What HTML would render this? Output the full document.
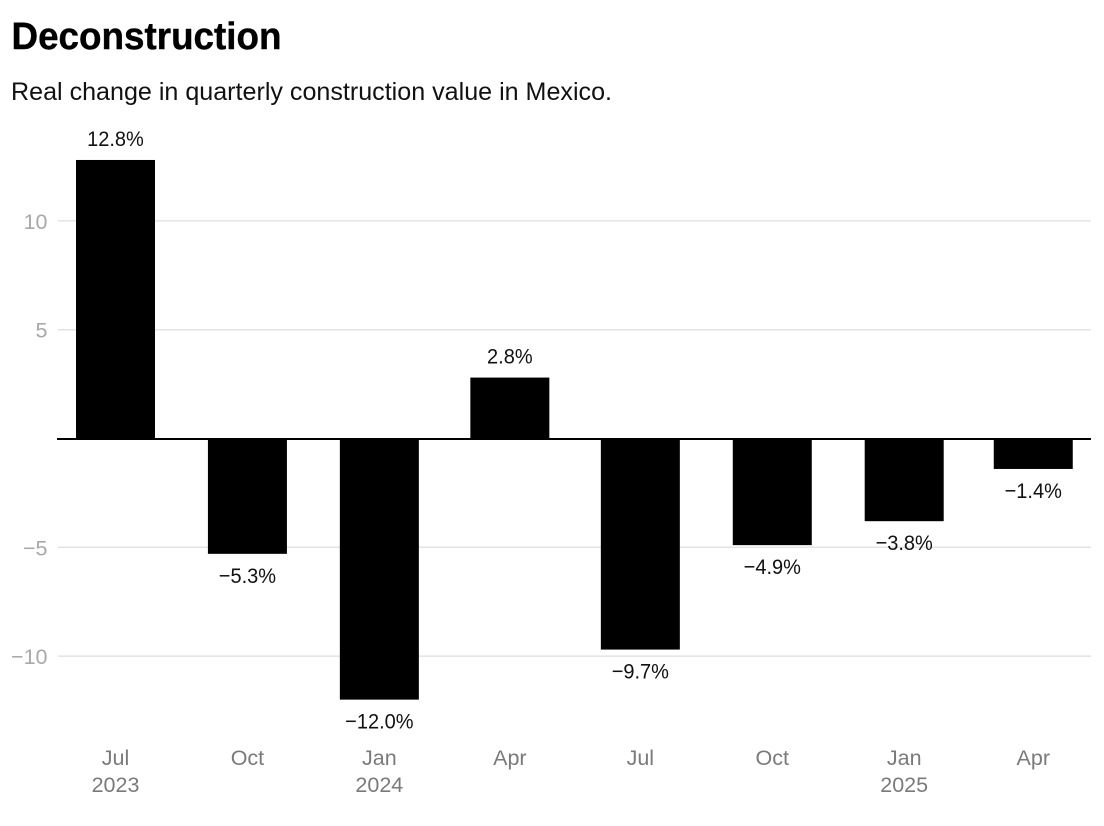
<!DOCTYPE html>
<html lang="en">
<head>
<meta charset="utf-8">
<title>Deconstruction</title>
<style>
html,body{margin:0;padding:0;background:#fff;width:1104px;height:826px;overflow:hidden}
svg{display:block;font-family:"Liberation Sans",Arial,sans-serif}
</style>
</head>
<body>
<svg id="chart" width="1104" height="826" viewBox="0 0 1104 826" xmlns="http://www.w3.org/2000/svg">
  <text x="11.5" y="49" font-size="38" font-weight="700" fill="#000" stroke="#000" stroke-width="0.4" textLength="270" lengthAdjust="spacingAndGlyphs">Deconstruction</text>
  <text x="11" y="100" font-size="25" fill="#111" textLength="601" lengthAdjust="spacingAndGlyphs">Real change in quarterly construction value in Mexico.</text>
  <g id="grid"></g>
  <g id="bars"></g>
  <g id="labels"></g>
  <g id="xaxis"></g>
</svg>
<script>
const dates = ["2023-07-01","2023-10-01","2024-01-01","2024-04-01","2024-07-01","2024-10-01","2025-01-01","2025-04-01"];
const months = ["Jul","Oct","Jan","Apr","Jul","Oct","Jan","Apr"];
const years = ["2023","","2024","","","","2025",""];
const values = [12.8,-5.3,-12.0,2.8,-9.7,-4.9,-3.8,-1.4];
const valueLabels = ["12.8%","\u22125.3%","\u221212.0%","2.8%","\u22129.7%","\u22124.9%","\u22123.8%","\u22121.4%"];
const yTicks = [10,5,-5,-10];
const yTickLabels = ["10","5","\u22125","\u221210"];

const NS = "http://www.w3.org/2000/svg";
const y = v => 438.5 - v * 21.76;
const dayMs = 86400000;
const t0 = Date.parse(dates[0]);
const x = d => 115.5 + (Date.parse(d) - t0) / dayMs * 1.434;
const barW = 79;

function mk(tag, attrs, parent, txt){
  const e = document.createElementNS(NS, tag);
  for (const k in attrs) e.setAttribute(k, attrs[k]);
  if (txt !== undefined) e.textContent = txt;
  parent.appendChild(e);
  return e;
}
const grid = document.getElementById("grid");
const bars = document.getElementById("bars");
const labels = document.getElementById("labels");
const xaxis = document.getElementById("xaxis");

yTicks.forEach((t, i) => {
  const line = mk("line", {x1:58, x2:1091, y1:y(t), y2:y(t), stroke:"#e3e3e3", "stroke-width":1.5}, grid);
  
  
  const lab = mk("text", {x:47.5, y:y(t)+8, "text-anchor":"end", "font-size":21.5, fill:"#a8a8a8"}, grid, yTickLabels[i]);
  
  
});

values.forEach((v, i) => {
  const cx = x(dates[i]);
  const top = Math.min(y(v), y(0));
  const h = Math.abs(y(v) - y(0));
  const r = mk("rect", {x:cx - barW/2, y:top, width:barW, height:h, fill:"#000"}, bars);
  
  
  const ly = v >= 0 ? y(v) - 14 : y(v) + 29;
  const l = mk("text", {x:cx, y:ly, "text-anchor":"middle", "font-size":21.5, fill:"#111", lengthAdjust:"spacingAndGlyphs"}, labels, valueLabels[i]);
  l.setAttribute('textLength', l.getComputedTextLength() * 0.93);
  
  
  const m = mk("text", {x:cx, y:765, "text-anchor":"middle", "font-size":21.5, fill:"#7a7a7a"}, xaxis, months[i]);
  
  
  if (years[i]) {
    const yr = mk("text", {x:cx, y:792, "text-anchor":"middle", "font-size":21.5, fill:"#7a7a7a"}, xaxis, years[i]);
    
    
  }
});
const base = mk("line", {x1:57, x2:1091, y1:y(0)+0.5, y2:y(0)+0.5, stroke:"#000", "stroke-width":2}, bars);


</script>
</body>
</html>
